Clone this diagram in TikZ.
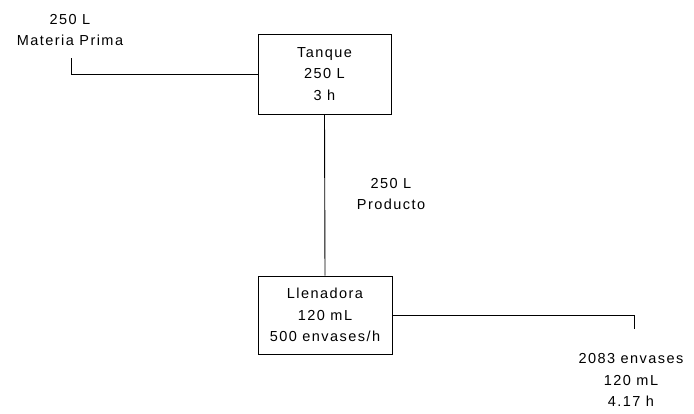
\documentclass[tikz,border=0pt]{standalone}
\usepackage{fontspec}
\setmainfont[LetterSpace=10]{Liberation Sans}
\usetikzlibrary{calc,positioning}

\begin{document}
\begin{tikzpicture}[x=1pt, y=-1pt, line width=0.9pt,
  font=\fontsize{14.5}{21.5}\selectfont,
  equipo/.style={draw, rectangle, align=center, inner sep=0pt},
  etiqueta/.style={align=center, inner sep=0pt}]
\useasboundingbox (0,0) rectangle (694,413);
% equipos
\node[equipo, minimum width=133, minimum height=80] (tanque) at (324.5,74) {Tanque\\250 L\\3 h};
\node[equipo, minimum width=134, minimum height=78] (llenadora) at (325,315) {Llenadora\\120 mL\\500 envases/h};
% corrientes
\node[etiqueta] (materia) at (70,30) {250 L\\Materia Prima};
\node[etiqueta] (producto) at (391,194) {250 L\\Producto};
\node[etiqueta] (envases) at (631,380) {2083 envases\\120 mL\\4.17 h};
\coordinate (entrada) at (71,58);
\coordinate (salida) at (634,329);
\draw (entrada) |- (tanque.west);
\draw (tanque.south) -- (llenadora.north);
\draw (llenadora.east) -| (salida);
\end{tikzpicture}
\end{document}
